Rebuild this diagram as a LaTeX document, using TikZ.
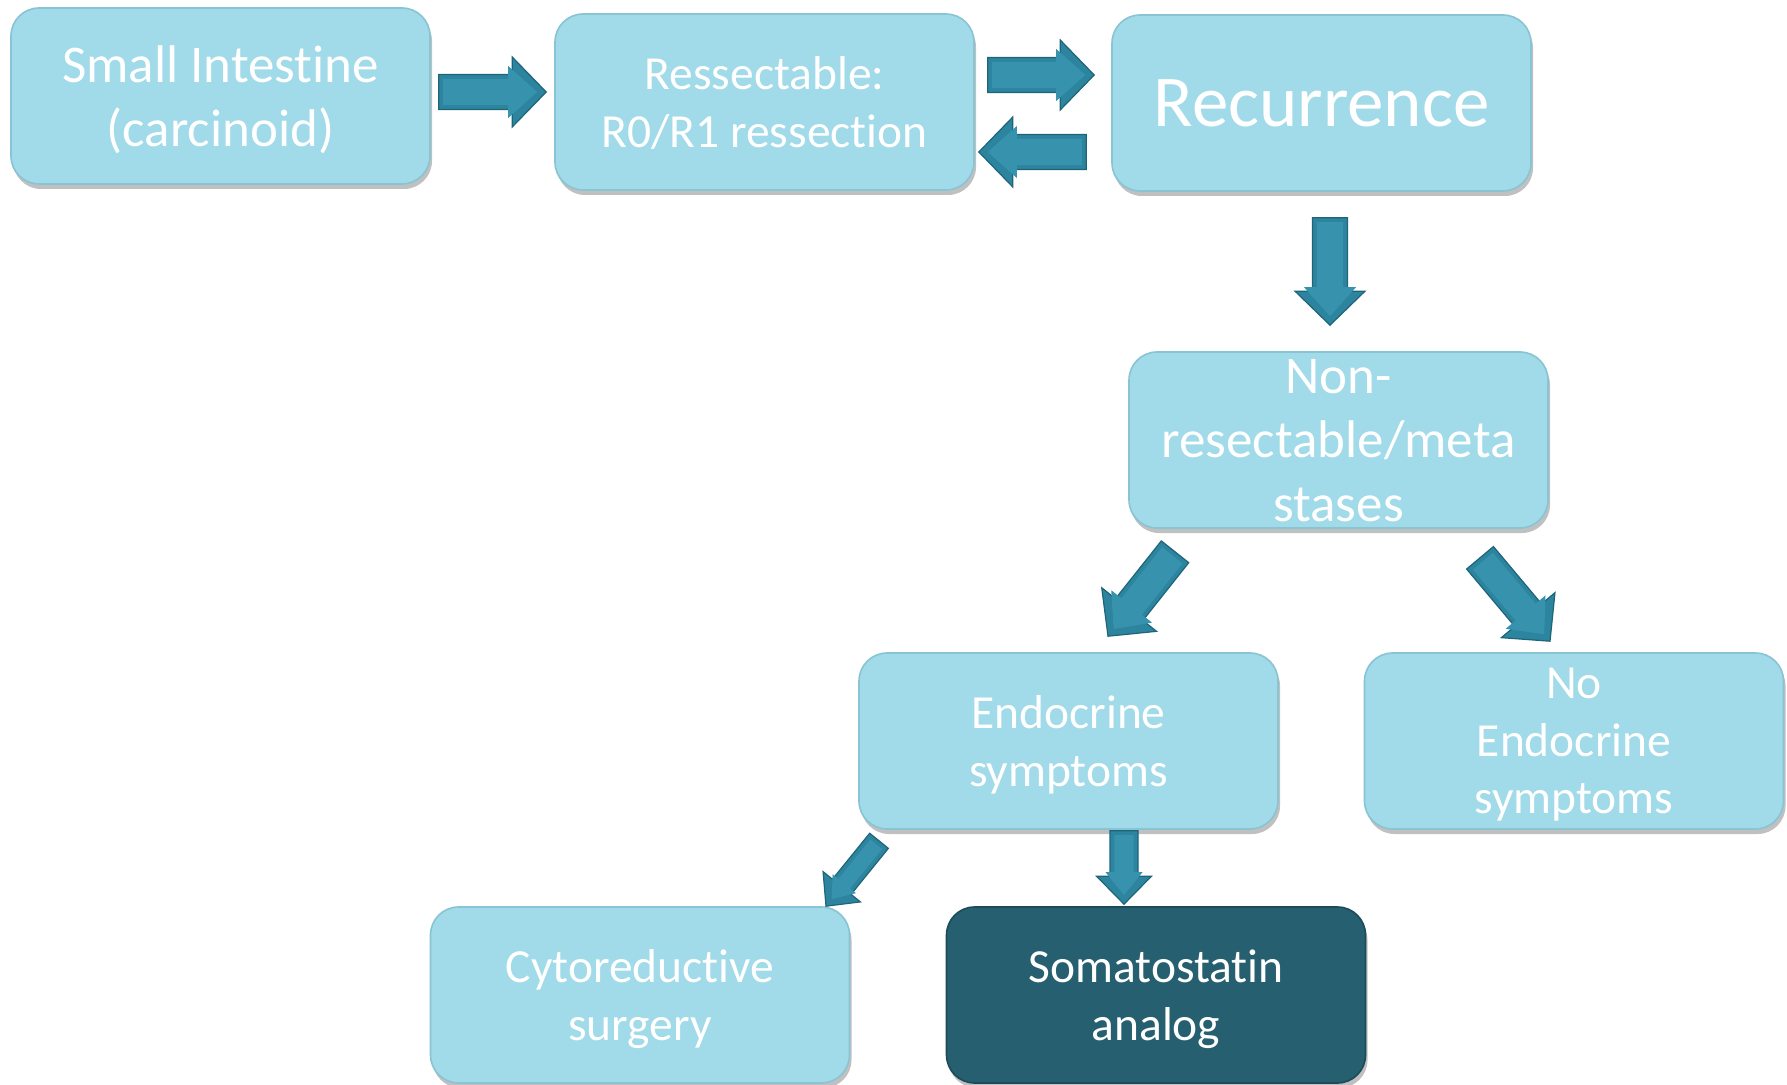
\documentclass[tikz,border=0pt]{standalone}
\usepackage{fontspec}
\setmainfont{Carlito}[Ligatures=NoCommon]
\usetikzlibrary{calc,shadows}
\definecolor{boxfill}{HTML}{A1DAE8}
\definecolor{boxedge}{HTML}{88C4D4}
\definecolor{darkfill}{HTML}{265F6F}
\definecolor{darkedge}{HTML}{1C4C5A}
\definecolor{arrowfill}{HTML}{2C849E}
\definecolor{arrowedge}{HTML}{1F6579}
\definecolor{arrowin}{HTML}{3792AD}

\tikzset{
  box/.style={rectangle, rounded corners=14pt, minimum width=209.5pt, minimum height=88pt,
    inner sep=0pt, align=center, text=white, text depth=0pt, fill=boxfill, draw=boxedge, line width=0.8pt,
    drop shadow={shadow xshift=1pt, shadow yshift=-2.5pt, opacity=0.35, fill=black!70}},
  darkbox/.style={box, fill=darkfill, draw=darkedge},
  bigtext/.style={font=\fontsize{26.5pt}{32pt}\selectfont},
  midtext/.style={font=\fontsize{23.75pt}{28.7pt}\selectfont},
  hugetext/.style={font=\fontsize{36.5pt}{44pt}\selectfont},
  arrowouter/.style={fill=arrowfill, draw=arrowedge, line width=0.6pt, line join=miter},
  arrowinner/.style={fill=arrowin},
}

% #1 start, #2 end, #3 shaft half width, #4 head half width, #5 head length
\newcommand\blockarrow[5]{%
  \coordinate (baS) at (#1);
  \coordinate (baE) at (#2);
  \coordinate (baB) at ($(baE)!#5!(baS)$);
  \path[arrowouter] ($(baS)!#3!90:(baE)$) -- ($(baB)!#3!-90:(baS)$) -- ($(baB)!#4!-90:(baS)$)
    -- (baE) -- ($(baB)!#4!90:(baS)$) -- ($(baB)!#3!90:(baS)$) -- ($(baS)!#3!-90:(baE)$) -- cycle;
  \pgfmathsetlengthmacro\baw{#3-2.2pt}%
  \pgfmathsetlengthmacro\bah{#4-4.5pt}%
  \pgfmathsetlengthmacro\bal{#5-2.5pt}%
  \coordinate (biS) at ($(baS)!2.2pt!(baE)$);
  \coordinate (biE) at ($(baE)!4.5pt!(baS)$);
  \coordinate (biB) at ($(biE)!\bal!(biS)$);
  \path[arrowinner] ($(biS)!\baw!90:(biE)$) -- ($(biB)!\baw!-90:(biS)$) -- ($(biB)!\bah!-90:(biS)$)
    -- (biE) -- ($(biB)!\bah!90:(biS)$) -- ($(biB)!\baw!90:(biS)$) -- ($(biS)!\baw!-90:(biE)$) -- cycle;
}

\begin{document}
\begin{tikzpicture}[x=0.5pt, y=-0.5pt]
  \fill[white] (0,0) rectangle (1787,1085);
  \useasboundingbox (0,0) rectangle (1787,1085);

  \node[box, bigtext] (b1) at (220.5,96) {Small Intestine\\(carcinoid)};
  \node[box, midtext] (b2) at (764.5,102) {Ressectable:\\R0/R1 ressection};
  \node[box, hugetext] (b3) at (1321.5,103) {Recurrence};
  \node[box, bigtext] (b4) at (1338.5,440) {Non-\\resectable/meta\\stases};
  \node[box, midtext] (b5) at (1068.5,741) {Endocrine\\symptoms};
  \node[box, midtext] (b6) at (1574,741) {No\\Endocrine\\symptoms};
  \node[box, midtext] (b7) at (640,995) {Cytoreductive\\surgery};
  \node[darkbox, midtext] (b8) at (1156,995) {Somatostatin\\analog};

  \blockarrow{$(b1.east)+(8,-4)$}{$(b2.west)+(-8,-10)$}{8.75pt}{17.5pt}{17pt}
  \blockarrow{$(b2.east)+(13,-27)$}{$(b3.west)+(-17,-28)$}{8.75pt}{17.5pt}{17pt}
  \blockarrow{$(b3.west)+(-25,49)$}{$(b2.east)+(4,50)$}{8.75pt}{17.5pt}{17pt}
  \blockarrow{$(b3.south)+(8.5,26)$}{$(b4.north)+(-8.5,-26)$}{8.75pt}{17.5pt}{17pt}
  \blockarrow{$(b4.south)+(-163.5,23)$}{$(b5.north)+(39.5,-16)$}{8.75pt}{17.5pt}{17pt}
  \blockarrow{$(b4.south)+(141.5,29)$}{$(b6.north)+(-24,-11)$}{8.75pt}{17.5pt}{17pt}
  \blockarrow{$(b5.south)+(-189.5,11)$}{$(b7.north)+(186,0)$}{6pt}{12pt}{12.5pt}
  \blockarrow{$(b5.south)+(55.5,1)$}{$(b8.north)+(-32,-2)$}{7pt}{13.75pt}{14pt}
\end{tikzpicture}
\end{document}
